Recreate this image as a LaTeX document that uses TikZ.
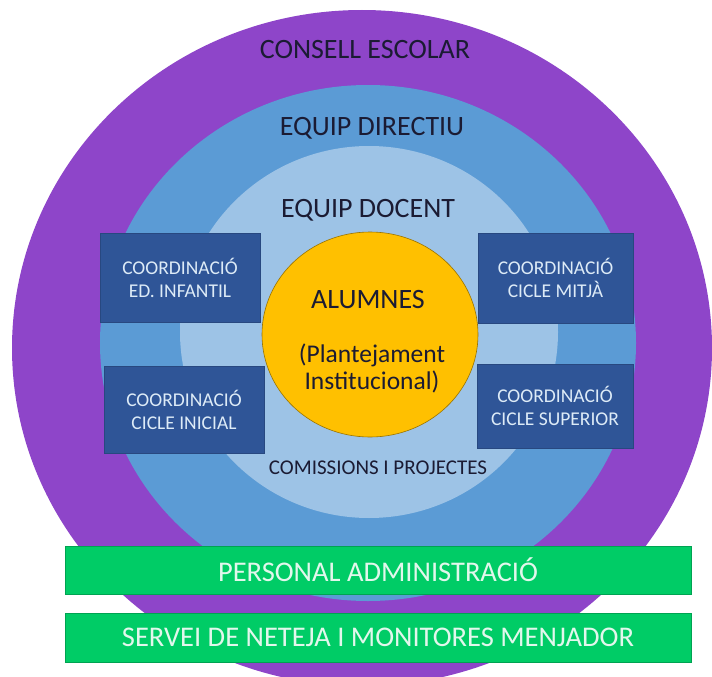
\documentclass[tikz,border=0pt]{standalone}
\usepackage{fontspec}
\setmainfont{Carlito}
\usetikzlibrary{positioning}

\definecolor{consellc}{HTML}{8E45C9}
\definecolor{directiuc}{HTML}{5B9BD5}
\definecolor{docentc}{HTML}{9DC3E6}
\definecolor{alumnesc}{HTML}{FFC000}
\definecolor{coordc}{HTML}{2F5597}
\definecolor{coordtext}{HTML}{DDEBF7}
\definecolor{barc}{HTML}{00CC66}
\definecolor{bartext}{HTML}{E2F7EC}
\definecolor{labelc}{HTML}{1B1B33}

\tikzset{
  ring label/.style={text=labelc,font=\fontsize{28}{32}\selectfont,inner sep=0pt},
  coord box/.style={fill=coordc,draw=coordc!85!black,text=coordtext,align=center,
    font=\fontsize{19.5}{23}\selectfont,minimum width=157pt,minimum height=88pt,inner sep=0pt},
  bar box/.style={fill=barc,draw=barc!80!black,text=bartext,
    font=\fontsize{28.5}{32}\selectfont,minimum width=626pt,minimum height=48pt,inner sep=0pt}
}

\begin{document}
\begin{tikzpicture}[x=1pt,y=-1pt]
    \useasboundingbox (0,0) rectangle (712,677);
    \coordinate (consell) at (362,348);
    \coordinate (directiu) at (368,343);
    \coordinate (docent) at (369,332);
    \coordinate (alumnes) at (370,334.5);
    % anells
    \fill[consellc] (consell) ellipse [x radius=350pt, y radius=338pt];
    \fill[directiuc] (directiu) ellipse [x radius=268pt, y radius=258pt];
    \fill[docentc] (docent) ellipse [x radius=189pt, y radius=186pt];
    \filldraw[fill=alumnesc,draw=alumnesc!60!black,line width=0.6pt]
        (alumnes) ellipse [x radius=108pt, y radius=102.5pt];
    \node[ring label] (tconsell) at (365,50) {CONSELL ESCOLAR};
    \node[ring label] (tdirectiu) at (372,128) {EQUIP DIRECTIU};
    \node[ring label] (tdocent) at (368,210) {EQUIP DOCENT};
    \node[ring label] (talumnes) at (368,300) {ALUMNES};
    \node[ring label,align=center,font=\fontsize{25.5}{27}\selectfont] (tplant) at (372,368.5)
        {(Plantejament\\Institucional)};
    \node[ring label,font=\fontsize{21}{24}\selectfont] (tcomissions) at (378,468)
        {COMISSIONS I PROJECTES};
    % coordinacions
    \node[coord box,minimum width=160pt,minimum height=89pt] (infantil) at (180,277.5)
        {COORDINACIÓ\\ED. INFANTIL};
    \node[coord box,minimum width=160pt,minimum height=87pt] (inicial) at (184,409.5)
        {COORDINACIÓ\\CICLE INICIAL};
    \node[coord box,minimum width=155pt,minimum height=90pt] (mitja) at (555.5,278)
        {COORDINACIÓ\\CICLE MITJÀ};
    \node[coord box,minimum width=156pt,minimum height=84pt] (superior) at (555,406)
        {COORDINACIÓ\\CICLE SUPERIOR};
    % personal
    \node[bar box] (admin) at (378,570) {PERSONAL ADMINISTRACIÓ};
    \node[bar box,minimum height=49pt] (neteja) at (378,637.5)
        {SERVEI DE NETEJA I MONITORES MENJADOR};
\end{tikzpicture}
\end{document}
